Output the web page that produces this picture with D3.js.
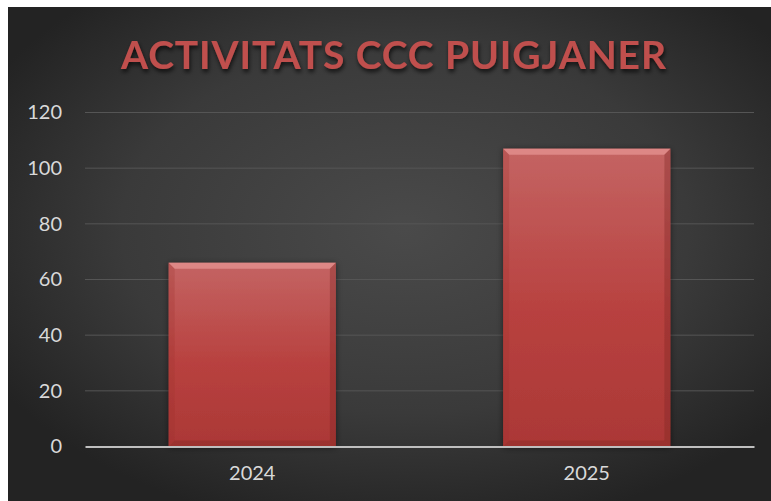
<!DOCTYPE html>
<html>
<head>
<meta charset="utf-8">
<script src="https://cdn.jsdelivr.net/npm/d3@7"></script>
<style>
  body { margin: 0; background: #fff; }
  svg { display: block; }
</style>
</head>
<body>
<svg id="chart" width="771" height="501"></svg>
<script>
var years = ["2024", "2025"];
var activitats = [66, 107];
var yTicks = [0, 20, 40, 60, 80, 100, 120];
var title = "ACTIVITATS CCC PUIGJANER";

var svg = d3.select("#chart");
var margin = {top: 112.5, right: 17, bottom: 54.5, left: 85};
var width = 771 - margin.left - margin.right;
var height = 501 - margin.top - margin.bottom;

var defs = svg.append("defs");

var bg = defs.append("radialGradient")
    .attr("id", "bgGrad")
    .attr("cx", "52%").attr("cy", "45%").attr("r", "62%");
bg.append("stop").attr("offset", "0%").attr("stop-color", "#4a4a4a");
bg.append("stop").attr("offset", "60%").attr("stop-color", "#3a3a3a");
bg.append("stop").attr("offset", "100%").attr("stop-color", "#232323");

var barGrad = defs.append("linearGradient")
    .attr("id", "barGrad")
    .attr("x1", 0).attr("x2", 0).attr("y1", 0).attr("y2", 1);
barGrad.append("stop").attr("offset", "0%").attr("stop-color", "#c46463");
barGrad.append("stop").attr("offset", "55%").attr("stop-color", "#b8413f");
barGrad.append("stop").attr("offset", "100%").attr("stop-color", "#ab3836");

var shadow = defs.append("filter")
    .attr("id", "barShadow")
    .attr("x", "-20%").attr("y", "-20%").attr("width", "140%").attr("height", "140%");
shadow.append("feDropShadow")
    .attr("dx", 0).attr("dy", 1).attr("stdDeviation", 3)
    .attr("flood-color", "#000").attr("flood-opacity", 0.5);

var titleShadow = defs.append("filter")
    .attr("id", "titleShadow")
    .attr("x", "-10%").attr("y", "-30%").attr("width", "120%").attr("height", "160%");
titleShadow.append("feDropShadow")
    .attr("dx", 1).attr("dy", 3).attr("stdDeviation", 2)
    .attr("flood-color", "#000").attr("flood-opacity", 0.7);

// chart background
svg.append("rect")
    .attr("x", 8).attr("y", 7)
    .attr("width", 763).attr("height", 494)
    .attr("fill", "url(#bgGrad)");

svg.append("text")
    .attr("x", 393.5)
    .attr("y", 68.5)
    .attr("text-anchor", "middle")
    .attr("font-family", "Lato, sans-serif")
    .attr("font-weight", "bold")
    .attr("font-size", 39)
    .attr("textLength", 545)
    .attr("lengthAdjust", "spacing")
    .attr("fill", "#c0504d")
    .attr("filter", "url(#titleShadow)")
    .text(title);

var g = svg.append("g")
    .attr("transform", "translate(" + margin.left + "," + margin.top + ")");

var x = d3.scaleBand()
    .domain(years)
    .range([0, width])
    .paddingInner(0.5)
    .paddingOuter(0.25);

var y = d3.scaleLinear()
    .domain([0, 120])
    .range([height, 0]);

// gridlines
g.append("g")
    .selectAll("line")
    .data(yTicks.slice(1))
    .enter()
    .append("line")
    .attr("x1", 0).attr("x2", width)
    .attr("y1", function(d) { return y(d); })
    .attr("y2", function(d) { return y(d); })
    .attr("stroke", "#555")
    .attr("stroke-width", 1);

// y labels
var yAxis = d3.axisLeft(y).tickValues(yTicks).tickSize(0).tickPadding(23);
var ya = g.append("g").call(yAxis);
ya.select(".domain").remove();
ya.selectAll("text")
    .attr("font-family", "Lato, sans-serif")
    .attr("font-size", 20)
    .attr("fill", "#d9d9d9");

// bars
var bev = 6;
var bars = g.append("g")
    .selectAll("g")
    .data(activitats)
    .enter()
    .append("g")
    .attr("filter", "url(#barShadow)");

bars.append("rect")
    .attr("x", function(d, i) { return x(years[i]); })
    .attr("y", function(d) { return y(d); })
    .attr("width", x.bandwidth())
    .attr("height", function(d) { return height - y(d); })
    .attr("fill", "url(#barGrad)");

// top bevel
bars.append("path")
    .attr("d", function(d, i) {
        var x0 = x(years[i]), x1 = x0 + x.bandwidth(), t = y(d);
        return "M" + x0 + "," + t + "L" + x1 + "," + t +
            "L" + (x1 - bev) + "," + (t + bev) + "L" + (x0 + bev) + "," + (t + bev) + "Z";
    })
    .attr("fill", "#e3908e")
    .attr("opacity", 0.8);

// side bevels
bars.append("path")
    .attr("d", function(d, i) {
        var x0 = x(years[i]), t = y(d);
        return "M" + x0 + "," + t + "L" + (x0 + bev) + "," + (t + bev) +
            "L" + (x0 + bev) + "," + (height - bev) + "L" + x0 + "," + height + "Z";
    })
    .attr("fill", "#9a2e2c")
    .attr("opacity", 0.25);

bars.append("path")
    .attr("d", function(d, i) {
        var x1 = x(years[i]) + x.bandwidth(), t = y(d);
        return "M" + x1 + "," + t + "L" + (x1 - bev) + "," + (t + bev) +
            "L" + (x1 - bev) + "," + (height - bev) + "L" + x1 + "," + height + "Z";
    })
    .attr("fill", "#7a2422")
    .attr("opacity", 0.35);

// bottom bevel
bars.append("path")
    .attr("d", function(d, i) {
        var x0 = x(years[i]), x1 = x0 + x.bandwidth();
        return "M" + x0 + "," + height + "L" + (x0 + bev) + "," + (height - bev) +
            "L" + (x1 - bev) + "," + (height - bev) + "L" + x1 + "," + height + "Z";
    })
    .attr("fill", "#8a2a28")
    .attr("opacity", 0.45);

// x axis
var xAxis = d3.axisBottom(x).tickSize(0).tickPadding(19);
var xa = g.append("g")
    .attr("transform", "translate(0," + height + ")")
    .call(xAxis);
xa.select(".domain")
    .attr("stroke", "#bfbfbf")
    .attr("stroke-width", 2);
xa.selectAll("text")
    .attr("font-family", "Lato, sans-serif")
    .attr("font-size", 20)
    .attr("fill", "#d9d9d9");
</script>
</body>
</html>
